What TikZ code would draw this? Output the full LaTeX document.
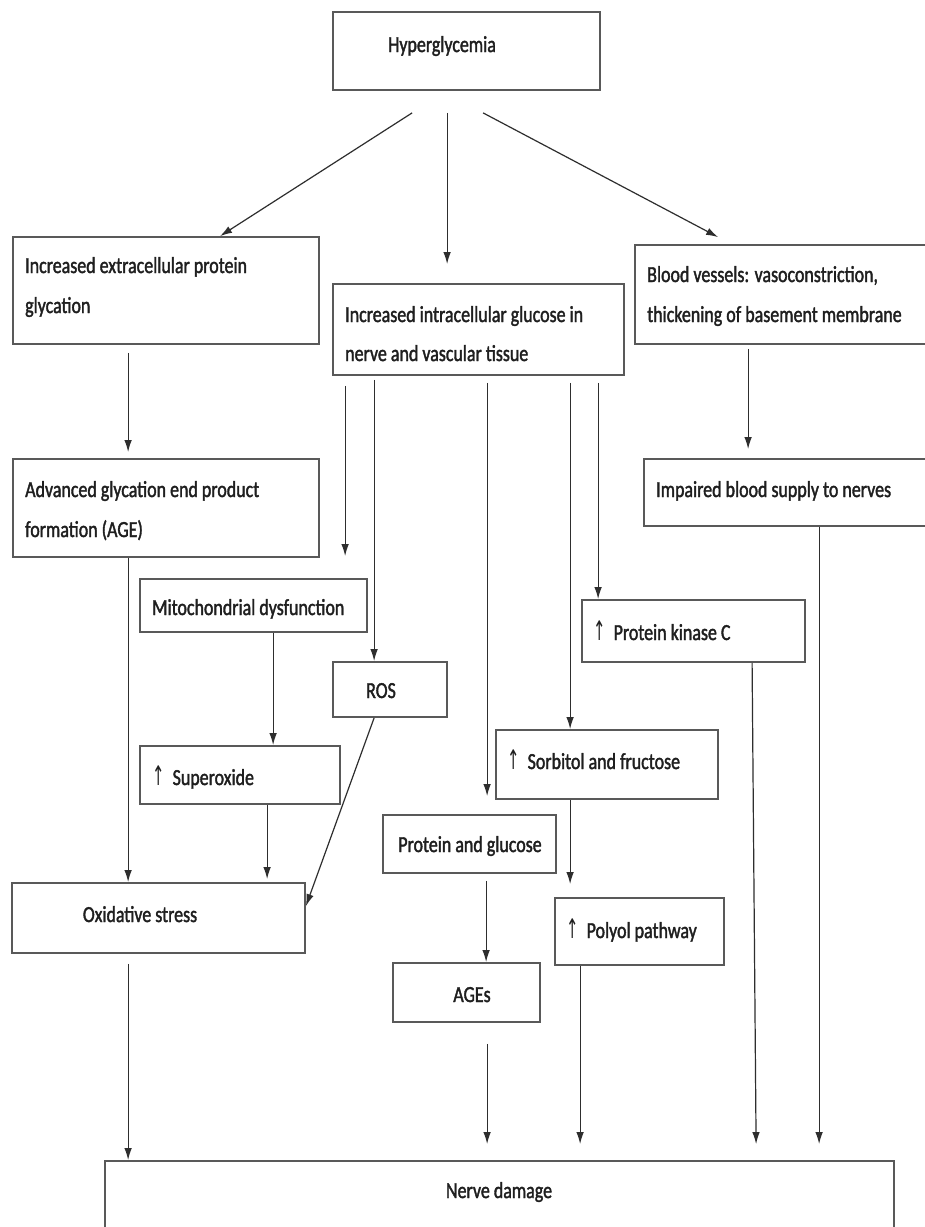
\documentclass[tikz,border=0pt]{standalone}
\usepackage{fontspec}
\setmainfont{Carlito}[FakeStretch=0.78,FakeBold=1.6]
\newfontfamily\arrfont{DejaVu Sans}[FakeStretch=0.55]
\usetikzlibrary{arrows.meta,fit,calc}
\begin{document}
\begin{tikzpicture}[x=1pt,y=-1pt,
  box/.style={draw=black!65, line width=1.8pt, inner sep=0pt, rectangle},
  txt/.style={inner sep=0pt, font=\fontsize{23}{28}\selectfont, text=black!88},
  arr/.style={draw=black!82, line width=1.2pt, -{Latex[length=12pt,width=7.5pt]}},
  ln/.style={draw=black!82, line width=1.2pt}]
\useasboundingbox (0,0) rectangle (925,1227);
\fill[white] (0,0) rectangle (925,1227);
\clip (0,0) rectangle (925,1227);
\newcommand\up{{\arrfont\fontsize{27}{28}\selectfont ↑}\hspace{8pt}}
% boxes
\node[box, fit={(333,12) (600,90)}] (hyper) {};
\node[box, fit={(13,237) (319,344)}] (extra) {};
\node[box, fit={(333,284) (624,375)}] (intra) {};
\node[box, fit={(635,245) (945,344)}] (blood) {};
\node[box, fit={(13,459) (319,557)}] (adv) {};
\node[box, fit={(644,459) (945,526)}] (impaired) {};
\node[box, fit={(140,579) (367,632)}] (mito) {};
\node[box, fit={(333,662) (447,717)}] (ros) {};
\node[box, fit={(582,600) (805,662)}] (pkc) {};
\node[box, fit={(496,730) (718,799)}] (sorb) {};
\node[box, fit={(140,746) (340,804)}] (sup) {};
\node[box, fit={(383,815) (556,873)}] (protglu) {};
\node[box, fit={(12,883) (305,953)}] (oxid) {};
\node[box, fit={(555,898) (724,965)}] (polyol) {};
\node[box, fit={(393,963) (540,1022)}] (ages) {};
\node[box, fit={(105,1161) (894,1265)}] (nerve) {};
% texts
\node[txt, anchor=base west] (thyper) at (388,52) {Hyperglycemia};
\node[txt, anchor=base west] (textra1) at (25,273) {Increased extracellular protein};
\node[txt, anchor=base west] (textra2) at (25,313) {glycation};
\node[txt, anchor=base west] (tintra1) at (345,322) {Increased intracellular glucose in};
\node[txt, anchor=base west] (tintra2) at (345,361) {nerve and vascular tissue};
\node[txt, anchor=base west] (tblood1) at (647,282) {Blood vessels: vasoconstriction,};
\node[txt, anchor=base west] (tblood2) at (647,322) {thickening of basement membrane};
\node[txt, anchor=base west] (tadv1) at (25,497) {Advanced glycation end product};
\node[txt, anchor=base west] (tadv2) at (25,537) {formation (AGE)};
\node[txt, anchor=base west] (timp) at (656,497) {Impaired blood supply to nerves};
\node[txt, anchor=base west] (tmito) at (152,615) {Mitochondrial dysfunction};
\node[txt, anchor=base] (tros) at (381,698) {ROS};
\node[txt, anchor=base west] (tpkc) at (593,640) {\up Protein kinase C};
\node[txt, anchor=base west] (tsorb) at (507,769) {\up Sorbitol and fructose};
\node[txt, anchor=base west] (tsup) at (152,785) {\up Superoxide};
\node[txt, anchor=base] (tprot) at (470,852) {Protein and glucose};
\node[txt, anchor=base] (toxid) at (140,922) {Oxidative stress};
\node[txt, anchor=base west] (tpoly) at (566,938) {\up Polyol pathway};
\node[txt, anchor=base] (tages) at (472,1002) {AGEs};
\node[txt, anchor=base] (tnerve) at (499,1198) {Nerve damage};
% connectors
\draw[arr] ($(hyper.south west)+(80,22)$) -- ($(extra.north west)+(208,0)$);
\draw[arr] ($(hyper.south west)+(115,22)$) -- ($(intra.north west)+(115,-19)$);
\draw[arr] ($(hyper.south west)+(151,22)$) -- ($(blood.north west)+(84,-7)$);
\draw[arr] ($(extra.south west)+(116,8)$) -- ($(adv.north west)+(116,-6)$);
\draw[arr] ($(blood.south west)+(114,4)$) -- ($(impaired.north west)+(105,-9)$);
\draw[arr] ($(intra.south west)+(13,10)$) -- ($(mito.north west)+(206,-22)$);
\draw[arr] ($(intra.south west)+(42,4)$) -- ($(ros.north west)+(42,0)$);
\draw[arr] ($(intra.south west)+(155,7)$) -- ($(protglu.north west)+(105,-18)$);
\draw[arr] ($(intra.south west)+(238,7)$) -- ($(sorb.north west)+(75,0)$);
\draw[arr] ($(intra.south west)+(266,7)$) -- ($(pkc.north west)+(17,0)$);
\draw[arr] ($(adv.south west)+(116,0)$) -- ($(oxid.north west)+(117,0)$);
\draw[arr] ($(mito.south west)+(134,0)$) -- ($(sup.north west)+(134,0)$);
\draw[arr] ($(sup.south west)+(128,0)$) -- ($(oxid.north west)+(256,-3)$);
\draw[arr] ($(ros.south west)+(42,0)$) -- ($(oxid.north east)+(0,24)$);
\draw[arr] ($(sorb.south west)+(75,0)$) -- ($(polyol.north west)+(16,-13)$);
\draw[arr] ($(protglu.south west)+(104,7)$) -- ($(ages.north west)+(94,0)$);
\draw[arr] ($(oxid.south west)+(117,10)$) -- ($(nerve.north west)+(24,0)$);
\draw[arr] ($(ages.south west)+(95,21)$) -- ($(nerve.north west)+(383,-16)$);
\draw[arr] ($(polyol.south west)+(26,0)$) -- ($(nerve.north west)+(476,-16)$);
\draw[arr] ($(pkc.south west)+(171,0)$) -- ($(nerve.north west)+(652,-16)$);
\draw[arr] ($(impaired.south west)+(176,0)$) -- ($(nerve.north west)+(715,-16)$);
\end{tikzpicture}
\end{document}
